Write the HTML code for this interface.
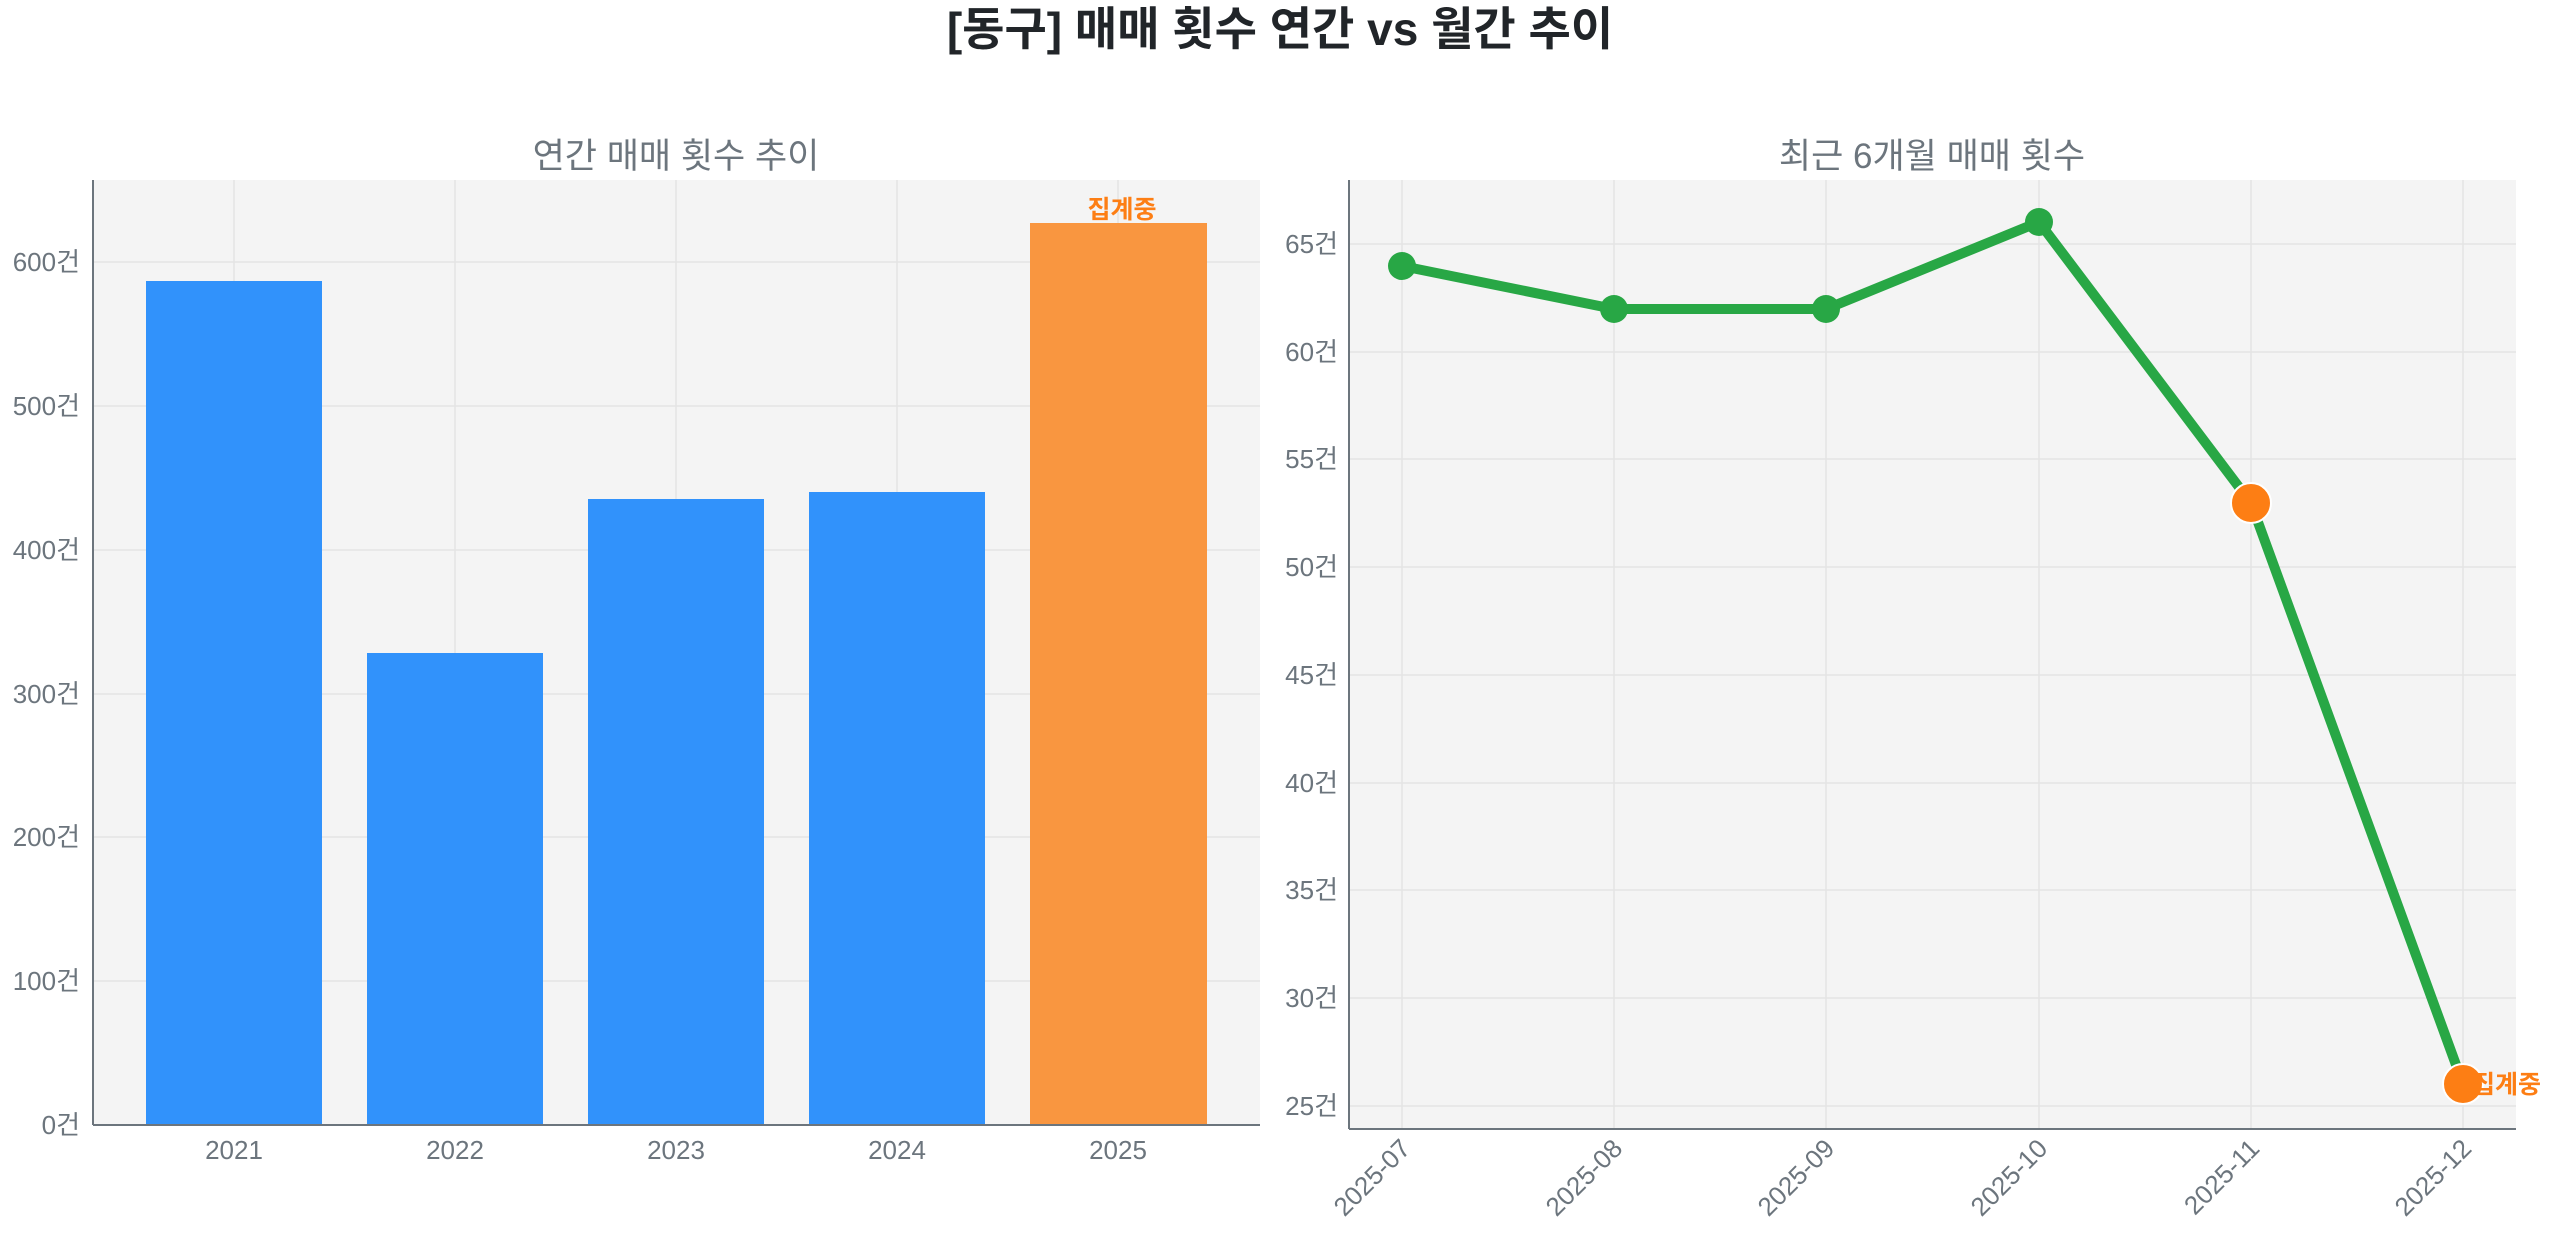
<!DOCTYPE html>
<html><head><meta charset="utf-8"><style>body{margin:0;background:#fff}svg{display:block}text{font-family:"Liberation Sans","Noto Sans CJK KR",sans-serif}</style></head><body>
<svg width="2560" height="1235" xmlns="http://www.w3.org/2000/svg">
<text x="1280" y="45" text-anchor="middle" font-size="46" font-weight="bold" fill="#212529">[동구] 매매 횟수 연간 vs 월간 추이</text>
<!-- left -->
<text x="676" y="168" text-anchor="middle" font-size="35" fill="#6c757d">연간 매매 횟수 추이</text>
<rect x="93" y="180" width="1167" height="945" fill="#f4f4f4"/>
<g stroke="#e4e4e4" stroke-width="1.5">
<line x1="93" x2="1260" y1="262" y2="262"/><line x1="93" x2="1260" y1="406" y2="406"/><line x1="93" x2="1260" y1="550" y2="550"/><line x1="93" x2="1260" y1="694" y2="694"/><line x1="93" x2="1260" y1="837" y2="837"/><line x1="93" x2="1260" y1="981" y2="981"/>
<line x1="234" x2="234" y1="180" y2="1125"/><line x1="455" x2="455" y1="180" y2="1125"/><line x1="676" x2="676" y1="180" y2="1125"/><line x1="897" x2="897" y1="180" y2="1125"/><line x1="1118" x2="1118" y1="180" y2="1125"/>
</g>
<rect x="146" y="281" width="176" height="844" fill="#3192fb"/>
<rect x="367" y="653" width="176" height="472" fill="#3192fb"/>
<rect x="588" y="499" width="176" height="626" fill="#3192fb"/>
<rect x="809" y="492" width="176" height="633" fill="#3192fb"/>
<rect x="1030" y="223" width="177" height="902" fill="#f99640"/>
<text x="1122" y="218" text-anchor="middle" font-size="25" font-weight="bold" fill="#fd7e14">집계중</text>
<g stroke="#6c757d" stroke-width="2"><line x1="93" x2="93" y1="180" y2="1125"/><line x1="93" x2="1260" y1="1125" y2="1125"/></g>
<g font-size="26" fill="#6c757d" text-anchor="end">
<text x="80" y="1134">0건</text><text x="80" y="990">100건</text><text x="80" y="846">200건</text><text x="80" y="703">300건</text><text x="80" y="559">400건</text><text x="80" y="415">500건</text><text x="80" y="271">600건</text>
</g>
<g font-size="26" fill="#6c757d" text-anchor="middle">
<text x="234" y="1159">2021</text><text x="455" y="1159">2022</text><text x="676" y="1159">2023</text><text x="897" y="1159">2024</text><text x="1118" y="1159">2025</text>
</g>
<!-- right -->
<text x="1932" y="168" text-anchor="middle" font-size="35" fill="#6c757d">최근 6개월 매매 횟수</text>
<rect x="1349" y="180" width="1167" height="949" fill="#f4f4f4"/>
<g stroke="#e4e4e4" stroke-width="1.5">
<line x1="1349" x2="2516" y1="1106" y2="1106"/><line x1="1349" x2="2516" y1="998" y2="998"/><line x1="1349" x2="2516" y1="890" y2="890"/><line x1="1349" x2="2516" y1="783" y2="783"/><line x1="1349" x2="2516" y1="675" y2="675"/><line x1="1349" x2="2516" y1="567" y2="567"/><line x1="1349" x2="2516" y1="459" y2="459"/><line x1="1349" x2="2516" y1="352" y2="352"/><line x1="1349" x2="2516" y1="244" y2="244"/>
<line x1="1402" x2="1402" y1="180" y2="1129"/><line x1="1614" x2="1614" y1="180" y2="1129"/><line x1="1826" x2="1826" y1="180" y2="1129"/><line x1="2039" x2="2039" y1="180" y2="1129"/><line x1="2251" x2="2251" y1="180" y2="1129"/><line x1="2463" x2="2463" y1="180" y2="1129"/>
</g>
<polyline points="1402,266 1614,309 1826,309 2039,222 2251,503 2463,1084" fill="none" stroke="#28a745" stroke-width="10" stroke-linejoin="round"/>
<g fill="#28a745"><circle cx="1402" cy="266" r="14"/><circle cx="1614" cy="309" r="14"/><circle cx="1826" cy="309" r="14"/><circle cx="2039" cy="222" r="14"/></g>
<g fill="#fd7e14" stroke="#fff" stroke-width="2"><circle cx="2251" cy="503" r="20"/><circle cx="2463" cy="1084" r="20"/></g>
<text x="2472" y="1093" font-size="25" font-weight="bold" fill="#fd7e14">집계중</text>
<g stroke="#6c757d" stroke-width="2"><line x1="1349" x2="1349" y1="180" y2="1129"/><line x1="1349" x2="2516" y1="1129" y2="1129"/></g>
<g font-size="26" fill="#6c757d" text-anchor="end">
<text x="1338" y="1115">25건</text><text x="1338" y="1007">30건</text><text x="1338" y="899">35건</text><text x="1338" y="792">40건</text><text x="1338" y="684">45건</text><text x="1338" y="576">50건</text><text x="1338" y="468">55건</text><text x="1338" y="361">60건</text><text x="1338" y="253">65건</text>
</g>
<g font-size="26" fill="#6c757d" text-anchor="end">
<text transform="translate(1412,1150) rotate(-45)">2025-07</text>
<text transform="translate(1624,1150) rotate(-45)">2025-08</text>
<text transform="translate(1836,1150) rotate(-45)">2025-09</text>
<text transform="translate(2049,1150) rotate(-45)">2025-10</text>
<text transform="translate(2261,1150) rotate(-45)">2025-11</text>
<text transform="translate(2473,1150) rotate(-45)">2025-12</text>
</g>
</svg>
</body></html>
